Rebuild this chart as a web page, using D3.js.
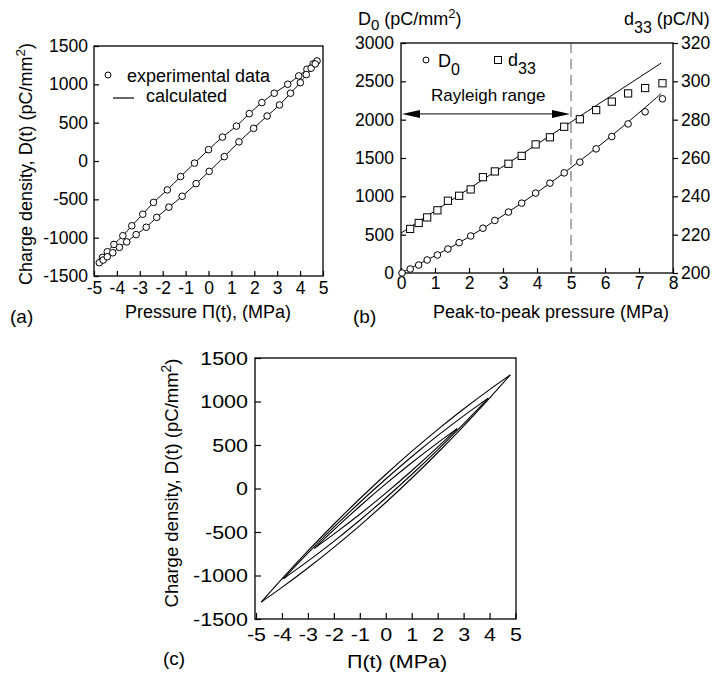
<!DOCTYPE html>
<html><head><meta charset="utf-8">
<script src="https://cdn.jsdelivr.net/npm/d3@7"></script>
<style>
body{margin:0;background:#fff}
svg{display:block;background:#fff}
text{font-family:"Liberation Sans",Arial,Helvetica,sans-serif;fill:#000}
</style></head><body>
<svg id="fig" width="713" height="677"></svg>
<script>
// ---------- (a) measured D–Π loop, two branches ----------
const aUpperP = [4.74, 4.57, 4.30, 3.94, 3.46, 2.87, 2.33, 1.78, 1.22, 0.61, 0.00, -0.61, -1.22, -1.80, -2.40, -2.87, -3.35, -3.74, -4.13, -4.42, -4.63, -4.77];
const aUpperD = [1305, 1266, 1197, 1110, 1001, 884, 762, 618, 455, 312, 148, -28, -203, -377, -540, -694, -845, -975, -1088, -1184, -1257, -1327];
const aLowerP = [-4.60, -4.42, -4.18, -3.89, -3.57, -3.16, -2.72, -2.26, -1.73, -1.15, -0.54, 0.03, 0.69, 1.33, 1.97, 2.56, 3.10, 3.58, 4.01, 4.27, 4.48, 4.66];
const aLowerD = [-1292, -1249, -1197, -1127, -1055, -960, -864, -735, -602, -460, -295, -135, 57, 250, 426, 587, 731, 884, 1022, 1127, 1210, 1266];
const aTicksX = [-5, -4, -3, -2, -1, 0, 1, 2, 3, 4, 5];
const aTicksY = [-1500, -1000, -500, 0, 500, 1000, 1500];

// ---------- (b) amplitude dependence ----------
const bD0P = [0.03, 0.27, 0.52, 0.77, 1.07, 1.38, 1.71, 2.05, 2.41, 2.76, 3.16, 3.55, 3.96, 4.38, 4.80, 5.26, 5.74, 6.20, 6.68, 7.18, 7.69];
const bD0 = [0, 52, 104, 170, 235, 313, 396, 483, 584, 686, 795, 911, 1042, 1172, 1306, 1446, 1619, 1780, 1945, 2102, 2272];
const bD33P = [0.27, 0.52, 0.77, 1.07, 1.38, 1.71, 2.05, 2.41, 2.76, 3.16, 3.55, 3.96, 4.38, 4.80, 5.26, 5.74, 6.20, 6.68, 7.18, 7.69];
const bD33 = [223.0, 226.1, 229.0, 232.7, 237.7, 240.3, 243.6, 250.0, 253.0, 257.0, 261.1, 267.1, 270.8, 276.3, 280.2, 285.0, 289.4, 293.7, 296.5, 299.0];
const bD0FitP = [0, 1, 2, 3, 4, 5, 6, 7, 7.65];
const bD0FitD = [0, 225, 470, 750, 1050, 1375, 1720, 2090, 2340];
const bD33FitP = [0, 7.65];
const bD33FitD = [220.8, 309.5];
const rayleighLimit = 5;      // MPa, end of the Rayleigh range
const rayleighArrowD0 = 2075; // height of the range arrow on the D0 axis
const bTicksX = [0, 1, 2, 3, 4, 5, 6, 7, 8];
const bTicksYL = [0, 500, 1000, 1500, 2000, 2500, 3000];
const bTicksYR = [200, 220, 240, 260, 280, 300, 320];

// ---------- (c) calculated loops for three amplitudes ----------
const cLargeP = [-4.8, -4, -3, -2, -1, 0, 1, 2, 3, 4, 4.8];
const cLargeUp = [-1306, -1039, -718, -411, -118, 161, 426, 677, 914, 1137, 1306];
const cLargeLo = [-1306, -1137, -914, -677, -426, -161, 118, 411, 718, 1039, 1306];
const cMidP = [-3.95, -3, -2, -1, 0, 1, 2, 3, 3.95];
const cMidUp = [-1039, -743, -445, -161, 109, 365, 607, 835, 1039];
const cMidLo = [-1039, -835, -607, -365, -109, 161, 445, 743, 1039];
const cSmallP = [-2.75, -2, -1, 0, 1, 2, 2.75];
const cSmallUp = [-688, -475, -204, 53, 296, 525, 688];
const cSmallLo = [-688, -525, -296, -53, 204, 475, 688];

const svg = d3.select("#fig");
const FS = 17.5;
const zip = (xs, ys) => xs.map((x, i) => [x, ys[i]]);

function frame(g, x0, x1, y0, y1) {
  g.append("rect").attr("x", x0).attr("y", y0).attr("width", x1 - x0).attr("height", y1 - y0)
    .attr("fill", "none").attr("stroke", "#000").attr("stroke-width", 1.3);
}
function styleAxis(g, fs) {
  g.attr("font-size", fs).attr("font-family", '"Liberation Sans",Arial,Helvetica,sans-serif');
  g.select(".domain").remove();
  g.selectAll(".tick line").attr("stroke", "#000").attr("stroke-width", 1.2);
  g.selectAll(".tick text").attr("fill", "#000");
}
function stretchText(sel, k) {
  sel.each(function () {
    const w = this.getComputedTextLength();
    d3.select(this).attr("textLength", w * k).attr("lengthAdjust", "spacingAndGlyphs");
  });
}
function yLabel(x, y, fs) {
  const t = svg.append("text").attr("transform", `translate(${x},${y}) rotate(-90)`)
    .attr("text-anchor", "middle").attr("font-size", fs);
  t.append("tspan").text("Charge density, D(t) (pC/mm");
  t.append("tspan").attr("font-size", fs * 0.75).attr("dy", -fs * 0.4).text("2");
  t.append("tspan").attr("dy", fs * 0.4).text(")");
  return t;
}
const fmtDash = d => (d < 0 ? "-" : "") + Math.abs(d);

// ================= panel (a) =================
const ax = d3.scaleLinear().domain([-5, 5]).range([94, 323]);
const ay = d3.scaleLinear().domain([-1500, 1500]).range([276, 46]);
const ga = svg.append("g");
frame(ga, 94, 323, 46, 276);
ga.append("g").attr("transform", "translate(0,276)")
  .call(d3.axisBottom(ax).tickValues(aTicksX).tickSizeInner(-5).tickSizeOuter(0).tickPadding(6).tickFormat(fmtDash))
  .call(g => styleAxis(g, FS));
ga.append("g").attr("transform", "translate(94,0)")
  .call(d3.axisLeft(ay).tickValues(aTicksY).tickSizeInner(-5).tickSizeOuter(0).tickPadding(6).tickFormat(fmtDash))
  .call(g => styleAxis(g, FS));

const aUp = zip(aUpperP, aUpperD), aLo = zip(aLowerP, aLowerD);
const aLine = d3.line().x(d => ax(d[0])).y(d => ay(d[1])).curve(d3.curveCatmullRom.alpha(0.5));
ga.append("path").attr("d", aLine(aUp)).attr("fill", "none").attr("stroke", "#000").attr("stroke-width", 1);
ga.append("path").attr("d", aLine([aUp[aUp.length - 1], ...aLo, aUp[0]]))
  .attr("fill", "none").attr("stroke", "#000").attr("stroke-width", 1);
ga.selectAll("circle.pt").data(aUp.concat(aLo)).join("circle").attr("class", "pt")
  .attr("cx", d => ax(d[0])).attr("cy", d => ay(d[1])).attr("r", 3.3)
  .attr("fill", "#fff").attr("stroke", "#000").attr("stroke-width", 1);

// legend (a)
ga.append("circle").attr("cx", 108).attr("cy", 75).attr("r", 3).attr("fill", "#fff").attr("stroke", "#000");
ga.append("text").attr("x", 127).attr("y", 82).attr("font-size", 18).text("experimental data");
ga.append("line").attr("x1", 113).attr("x2", 134).attr("y1", 98).attr("y2", 98).attr("stroke", "#000").attr("stroke-width", 1.2);
ga.append("text").attr("x", 146).attr("y", 102).attr("font-size", 18).text("calculated");

ga.append("text").attr("x", 208).attr("y", 318).attr("text-anchor", "middle").attr("font-size", 18)
  .text("Pressure \u03A0(t), (MPa)");
yLabel(32, 164, 18);
svg.append("text").attr("x", 10).attr("y", 323).attr("font-size", 19)
  .attr("font-family", '"Liberation Serif","Times New Roman",serif').text("(a)");

// ================= panel (b) =================
const bx = d3.scaleLinear().domain([0, 8]).range([401, 673]);
const byL = d3.scaleLinear().domain([0, 3000]).range([273, 43]);
const byR = d3.scaleLinear().domain([200, 320]).range([273, 43]);
const gb = svg.append("g");
frame(gb, 401, 673, 43, 273);
gb.append("g").attr("transform", "translate(0,273)")
  .call(d3.axisBottom(bx).tickValues(bTicksX).tickSizeInner(-5).tickSizeOuter(0).tickPadding(3.5).tickFormat(d3.format("d")))
  .call(g => styleAxis(g, FS));
gb.append("g").attr("transform", "translate(401,0)")
  .call(d3.axisLeft(byL).tickValues(bTicksYL).tickSizeInner(-5).tickSizeOuter(0).tickPadding(7).tickFormat(d3.format("d")))
  .call(g => styleAxis(g, FS));
gb.append("g").attr("transform", "translate(673,0)")
  .call(d3.axisRight(byR).tickValues(bTicksYR).tickSizeInner(5).tickSizeOuter(0).tickPadding(3).tickFormat(d3.format("d")))
  .call(g => styleAxis(g, FS));

// Rayleigh boundary
gb.append("line").attr("x1", bx(rayleighLimit)).attr("x2", bx(rayleighLimit)).attr("y1", 43).attr("y2", 273)
  .attr("stroke", "#555").attr("stroke-width", 1).attr("stroke-dasharray", "10,6");
const ay0 = byL(rayleighArrowD0), xa0 = bx(0) + 1, xa1 = bx(rayleighLimit) - 1;
gb.append("line").attr("x1", xa0 + 14).attr("x2", xa1 - 14).attr("y1", ay0).attr("y2", ay0).attr("stroke", "#000").attr("stroke-width", 1);
gb.append("path").attr("d", `M${xa0},${ay0}L${xa0 + 18},${ay0 - 4}L${xa0 + 18},${ay0 + 4}Z`).attr("fill", "#000");
gb.append("path").attr("d", `M${xa1},${ay0}L${xa1 - 18},${ay0 - 4}L${xa1 - 18},${ay0 + 4}Z`).attr("fill", "#000");
gb.append("text").attr("x", 431).attr("y", 101).attr("font-size", 17).text("Rayleigh range");

// fits
gb.append("path").attr("d", d3.line().x(d => bx(d[0])).y(d => byL(d[1])).curve(d3.curveCatmullRom.alpha(0.5))(zip(bD0FitP, bD0FitD)))
  .attr("fill", "none").attr("stroke", "#000").attr("stroke-width", 1);
gb.append("path").attr("d", d3.line().x(d => bx(d[0])).y(d => byR(d[1]))(zip(bD33FitP, bD33FitD)))
  .attr("fill", "none").attr("stroke", "#000").attr("stroke-width", 1);
// measured points
gb.selectAll("rect.sq").data(zip(bD33P, bD33)).join("rect").attr("class", "sq")
  .attr("x", d => bx(d[0]) - 3.6).attr("y", d => byR(d[1]) - 3.6).attr("width", 7.2).attr("height", 7.2)
  .attr("fill", "#fff").attr("stroke", "#000").attr("stroke-width", 1);
gb.selectAll("circle.pt").data(zip(bD0P, bD0)).join("circle").attr("class", "pt")
  .attr("cx", d => bx(d[0])).attr("cy", d => byL(d[1])).attr("r", 3.3)
  .attr("fill", "#fff").attr("stroke", "#000").attr("stroke-width", 1);

// legend (b)
gb.append("circle").attr("cx", 426).attr("cy", 60).attr("r", 3).attr("fill", "#fff").attr("stroke", "#000");
const lD = gb.append("text").attr("x", 438).attr("y", 67).attr("font-size", 18);
lD.append("tspan").text("D");
lD.append("tspan").attr("font-size", 16).attr("dy", 8).text("0");
gb.append("rect").attr("x", 494.5).attr("y", 56.5).attr("width", 7).attr("height", 7).attr("fill", "#fff").attr("stroke", "#000");
const ld = gb.append("text").attr("x", 508).attr("y", 66).attr("font-size", 18);
ld.append("tspan").text("d");
ld.append("tspan").attr("font-size", 16).attr("dy", 8).text("33");

// axis titles (b)
const tL = svg.append("text").attr("x", 358).attr("y", 25).attr("font-size", 18);
tL.append("tspan").text("D");
tL.append("tspan").attr("font-size", 15).attr("dy", 5).text("0");
tL.append("tspan").attr("dy", -5).text(" (pC/mm");
tL.append("tspan").attr("font-size", 13).attr("dy", -7).text("2");
tL.append("tspan").attr("dy", 7).text(")");
const tR = svg.append("text").attr("x", 624).attr("y", 25).attr("font-size", 18);
tR.append("tspan").text("d");
tR.append("tspan").attr("font-size", 16).attr("dy", 8).text("33");
tR.append("tspan").attr("dy", -8).text(" (pC/N)");
gb.append("text").attr("x", 551).attr("y", 318).attr("text-anchor", "middle").attr("font-size", 18)
  .text("Peak-to-peak pressure (MPa)");
svg.append("text").attr("x", 353).attr("y", 323).attr("font-size", 19)
  .attr("font-family", '"Liberation Serif","Times New Roman",serif').text("(b)");

// ================= panel (c) =================
const SX = 1.13;
const cx = d3.scaleLinear().domain([-5, 5]).range([256, 515.5]);
const cy = d3.scaleLinear().domain([-1500, 1500]).range([619, 358]);
const gc = svg.append("g");
frame(gc, 255, 516, 358, 619);
gc.append("g").attr("transform", "translate(0,619)")
  .call(d3.axisBottom(cx).tickValues(aTicksX).tickSizeInner(-6).tickSizeOuter(0).tickPadding(9).tickFormat(fmtDash))
  .call(g => styleAxis(g, 19))
  .call(g => stretchText(g.selectAll(".tick text"), SX));
gc.append("g").attr("transform", "translate(255,0)")
  .call(d3.axisLeft(cy).tickValues(aTicksY).tickSizeInner(-6).tickSizeOuter(0).tickPadding(7).tickFormat(fmtDash))
  .call(g => styleAxis(g, 19))
  .call(g => stretchText(g.selectAll(".tick text"), SX));

const cLine = d3.line().x(d => cx(d[0])).y(d => cy(d[1])).curve(d3.curveCatmullRom.alpha(0.5));
[[cLargeP, cLargeUp, cLargeLo], [cMidP, cMidUp, cMidLo], [cSmallP, cSmallUp, cSmallLo]].forEach(([p, up, lo]) => {
  gc.append("path").attr("d", cLine(zip(p, up))).attr("fill", "none").attr("stroke", "#000").attr("stroke-width", 1.1);
  gc.append("path").attr("d", cLine(zip(p, lo))).attr("fill", "none").attr("stroke", "#000").attr("stroke-width", 1.1);
});

const cxl = gc.append("text").attr("x", 397).attr("y", 668).attr("text-anchor", "middle").attr("font-size", 19)
  .text("\u03A0(t) (MPa)");
stretchText(cxl, SX);
yLabel(178, 483, 18.5);
svg.append("text").attr("x", 163).attr("y", 665).attr("font-size", 19)
  .attr("font-family", '"Liberation Serif","Times New Roman",serif').text("(c)");
</script>
</body></html>
